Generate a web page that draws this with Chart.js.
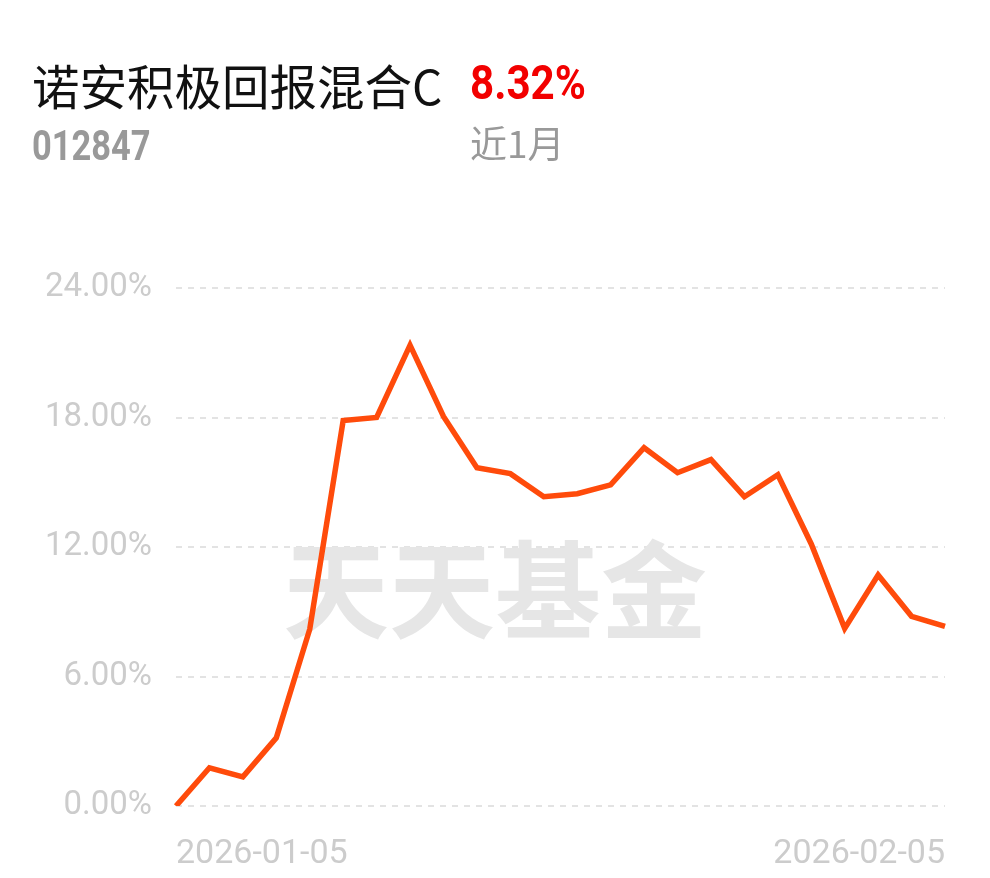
<!DOCTYPE html>
<html>
<head>
<meta charset="utf-8">
<script src="https://cdn.jsdelivr.net/npm/chart.js@4"></script>
<style>
  body { margin: 0; background: #fff; }
  .wrap { position: relative; width: 990px; height: 878px; }
  canvas { position: absolute; left: 0; top: 0; }
  .t { position: absolute; white-space: nowrap; }
  .name { left: 32px; top: 50px; font: 47.5px "Noto Sans CJK SC"; color: #111; }
  .rate { left: 470px; top: 54px; font: bold 49px Roboto; color: #f20000; transform: scaleX(0.86); transform-origin: left top; }
  .code { left: 32px; top: 121px; font: bold 42px Roboto; color: #999; transform: scaleX(0.82); transform-origin: left top; }
  .per { left: 470px; top: 115px; font: 37px "Noto Sans CJK SC"; color: #999; }
</style>
</head>
<body>
<div class="wrap">
  <canvas id="c" width="990" height="878"></canvas>
  <div class="t name">诺安积极回报混合C</div>
  <div class="t rate">8.32%</div>
  <div class="t code">012847</div>
  <div class="t per">近1月</div>
</div>
<script>
// trading days, near 1 month
const dates = ['2026-01-05','2026-01-06','2026-01-07','2026-01-08','2026-01-09',
  '2026-01-12','2026-01-13','2026-01-14','2026-01-15','2026-01-16',
  '2026-01-19','2026-01-20','2026-01-21','2026-01-22','2026-01-23',
  '2026-01-26','2026-01-27','2026-01-28','2026-01-29','2026-01-30',
  '2026-02-02','2026-02-03','2026-02-04','2026-02-05'];
const returns = [0, 1.77, 1.35, 3.16, 8.19, 17.86, 18.0, 21.35, 18.05, 15.67,
  15.4, 14.33, 14.47, 14.88, 16.6, 15.44, 16.05, 14.33, 15.35, 12.14,
  8.23, 10.7, 8.79, 8.32];
const yTicks = [0, 6, 12, 18, 24];

const watermark = {
    id: 'watermark',
    beforeDatasetsDraw(chart) {
        const ctx = chart.ctx;
        ctx.save();
        ctx.font = 'bold 106px "Noto Sans CJK SC"';
        ctx.fillStyle = '#e6e6e6';
        ctx.textAlign = 'center';
        ctx.textBaseline = 'middle';
        ctx.fillText('天天基金', 495, 590);
        ctx.restore();
    }
};

new Chart(document.getElementById('c'), {
    type: 'line',
    data: {
        labels: dates,
        datasets: [{
            data: returns,
            borderColor: '#ff4b0b',
            borderWidth: 5.5,
            pointRadius: 0,
            tension: 0,
            fill: false
        }]
    },
    options: {
        responsive: false,
        animation: false,
        layout: { padding: { top: 288, right: 45, bottom: 12, left: 0 } },
        plugins: { legend: { display: false }, tooltip: { enabled: false } },
        scales: {
            x: {
                afterFit: function (scale) { scale.height = 60; },
                grid: { display: false },
                border: { display: false },
                ticks: {
                    autoSkip: false,
                    maxRotation: 0,
                    align: 'inner',
                    padding: 20,
                    color: '#cccccc',
                    font: { family: 'Roboto', size: 34 },
                    callback: function (v, i) {
                        return (i === 0 || i === dates.length - 1) ? dates[i] : '';
                    }
                }
            },
            y: {
                min: 0,
                max: 24,
                afterFit: function (scale) { scale.width = 176; },
                afterBuildTicks: function (scale) {
                    scale.ticks = yTicks.map(v => ({ value: v }));
                },
                grid: { color: '#e3e3e3', lineWidth: 2, drawTicks: false },
                border: { display: false, dash: [6, 6] },
                ticks: {
                    padding: 24,
                    color: '#cccccc',
                    font: { family: 'Roboto', size: 33 },
                    callback: v => v.toFixed(2) + '%'
                }
            }
        }
    },
    plugins: [watermark]
});
</script>
</body>
</html>
